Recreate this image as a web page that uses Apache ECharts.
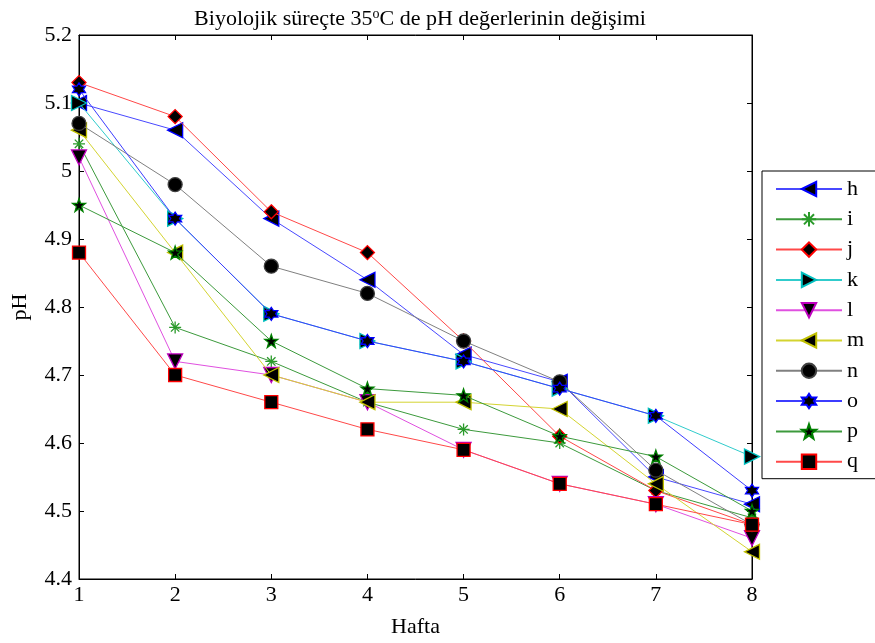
<!DOCTYPE html>
<html>
<head>
<meta charset="utf-8">
<script src="https://cdn.jsdelivr.net/npm/echarts@6/dist/echarts.min.js"></script>
<style>html,body{margin:0;padding:0;background:#fff}#c{width:875px;height:643px}</style>
</head>
<body>
<div id="c"></div>
<script>
var weeks = [1, 2, 3, 4, 5, 6, 7, 8];
var seriesNames = ['h', 'i', 'j', 'k', 'l', 'm', 'n', 'o', 'p', 'q'];
var h = [5.10, 5.06, 4.93, 4.84, 4.73, 4.69, 4.55, 4.51];
var i_ = [5.04, 4.77, 4.72, 4.66, 4.62, 4.60, 4.53, 4.49];
var j = [5.13, 5.08, 4.94, 4.88, 4.75, 4.61, 4.53, 4.48];
var k = [5.10, 4.93, 4.79, 4.75, 4.72, 4.68, 4.64, 4.58];
var l = [5.02, 4.72, 4.70, 4.66, 4.59, 4.54, 4.51, 4.46];
var m = [5.06, 4.88, 4.70, 4.66, 4.66, 4.65, 4.54, 4.44];
var n = [5.07, 4.98, 4.86, 4.82, 4.75, 4.69, 4.56, 4.48];
var o = [5.12, 4.93, 4.79, 4.75, 4.72, 4.68, 4.64, 4.53];
var p = [4.95, 4.88, 4.75, 4.68, 4.67, 4.61, 4.58, 4.50];
var q = [4.88, 4.70, 4.66, 4.62, 4.59, 4.54, 4.51, 4.48];
var yTicks = [4.4, 4.5, 4.6, 4.7, 4.8, 4.9, 5.0, 5.1, 5.2];

function starPath(points, rOuter, rInner) {
  var s = '';
  for (var t = 0; t < points * 2; t++) {
    var r = t % 2 === 0 ? rOuter : rInner;
    var a = -Math.PI / 2 + t * Math.PI / points;
    s += (t === 0 ? 'M' : 'L') + (r * Math.cos(a)).toFixed(3) + ',' + (r * Math.sin(a)).toFixed(3);
  }
  return 'path://' + s + 'Z';
}
var pentagram = starPath(5, 1, 0.4);
var hexagram = starPath(6, 1, 0.58);
var asterisk = 'path://M0,-1L0,1M-1,0L1,0M-0.7,-0.7L0.7,0.7M-0.7,0.7L0.7,-0.7';

var styles = [
  {data: h, line: '#4848ff', edge: '#0000ff', fill: '#000', symbol: 'triangle', rot: 90, size: 15},
  {data: i_, line: '#3c9a3c', edge: '#2a9a2a', fill: 'none', symbol: asterisk, rot: 0, size: 12},
  {data: j, line: '#ff4848', edge: '#ff0000', fill: '#000', symbol: 'diamond', rot: 0, size: 14},
  {data: k, line: '#30cccc', edge: '#00bfbf', fill: '#000', symbol: 'triangle', rot: -90, size: 15},
  {data: l, line: '#e050e0', edge: '#bf00bf', fill: '#000', symbol: 'triangle', rot: 180, size: 15},
  {data: m, line: '#d4d430', edge: '#bfbf00', fill: '#000', symbol: 'triangle', rot: 90, size: 15},
  {data: n, line: '#808080', edge: '#404040', fill: '#000', symbol: 'circle', rot: 0, size: 14},
  {data: o, line: '#3c3cff', edge: '#0000ff', fill: '#000', symbol: hexagram, rot: 0, size: 13},
  {data: p, line: '#3c9a3c', edge: '#008000', fill: '#000', symbol: pentagram, rot: 0, size: 13},
  {data: q, line: '#ff4848', edge: '#ff0000', fill: '#000', symbol: 'rect', rot: 0, size: 13}
];

var font = 'Liberation Serif';
var fs = 22;
var series = seriesNames.map(function (name, idx) {
  var st = styles[idx];
  return {
    name: name,
    type: 'line',
    xAxisIndex: 0,
    yAxisIndex: 0,
    data: weeks.map(function (w, t) { return [w, st.data[t]]; }),
    symbol: st.symbol,
    symbolRotate: st.rot,
    symbolSize: st.size,
    showAllSymbol: true,
    animation: false,
    lineStyle: {color: st.line, width: 1},
    itemStyle: {color: st.fill, borderColor: st.edge, borderWidth: 1.3, opacity: 1},
    emphasis: {disabled: true},
    z: 2 + idx
  };
});

function fmt(v) { return String(parseFloat(v.toFixed(1))); }

var chart = echarts.init(document.getElementById('c'), null, {renderer: 'canvas'});
chart.setOption({
  animation: false,
  backgroundColor: '#fff',
  textStyle: {fontFamily: font},
  title: {
    text: 'Biyolojik süreçte 35{sup|o}C de pH değerlerinin değişimi',
    left: 415, top: 2, textAlign: 'center',
    textStyle: {
      fontFamily: font, fontSize: 22, fontWeight: 'normal', color: '#000',
      rich: {sup: {fontFamily: font, fontSize: 14, verticalAlign: 'top', padding: [0, 0, 10, 0], color: '#000'}}
    }
  },
  grid: {left: 79, right: 123, top: 35, bottom: 63, show: true, borderColor: '#000', borderWidth: 1, containLabel: false},
  legend: {
    orient: 'vertical', left: 762, top: 171,
    data: seriesNames,
    itemWidth: 66, itemHeight: 18, itemGap: 8.3,
    padding: [7, 24, 6, 13],
    borderColor: '#000', borderWidth: 1, backgroundColor: '#fff',
    textStyle: {fontFamily: font, fontSize: fs, color: '#000', padding: [0, 0, 0, 0]},
    selectedMode: false
  },
  xAxis: [{
    type: 'value', min: 1, max: 8, interval: 1,
    name: 'Hafta', nameLocation: 'middle', nameGap: 37,
    nameTextStyle: {fontFamily: font, fontSize: fs, color: '#000'},
    axisLine: {show: true, onZero: false, lineStyle: {color: '#000', width: 1}},
    axisTick: {show: true, inside: true, length: 5, lineStyle: {color: '#000'}},
    axisLabel: {fontFamily: font, fontSize: fs, color: '#000', margin: 5},
    splitLine: {show: false}
  }, {
    type: 'value', min: 1, max: 8, interval: 1, position: 'top',
    axisLine: {show: true, onZero: false, lineStyle: {color: '#000', width: 1}},
    axisTick: {show: true, inside: true, length: 5, lineStyle: {color: '#000'}},
    axisLabel: {show: false}, splitLine: {show: false}
  }],
  yAxis: [{
    type: 'value', min: 4.4, max: 5.2, interval: 0.1,
    name: 'pH', nameLocation: 'middle', nameGap: 48, nameRotate: 90,
    nameTextStyle: {fontFamily: font, fontSize: fs, color: '#000'},
    axisLine: {show: true, onZero: false, lineStyle: {color: '#000', width: 1}},
    axisTick: {show: true, inside: true, length: 5, lineStyle: {color: '#000'}},
    axisLabel: {fontFamily: font, fontSize: fs, color: '#000', margin: 7, formatter: fmt},
    splitLine: {show: false}
  }, {
    type: 'value', min: 4.4, max: 5.2, interval: 0.1, position: 'right',
    axisLine: {show: true, onZero: false, lineStyle: {color: '#000', width: 1}},
    axisTick: {show: true, inside: true, length: 5, lineStyle: {color: '#000'}},
    axisLabel: {show: false}, splitLine: {show: false}
  }],
  series: series
});
</script>
</body>
</html>
